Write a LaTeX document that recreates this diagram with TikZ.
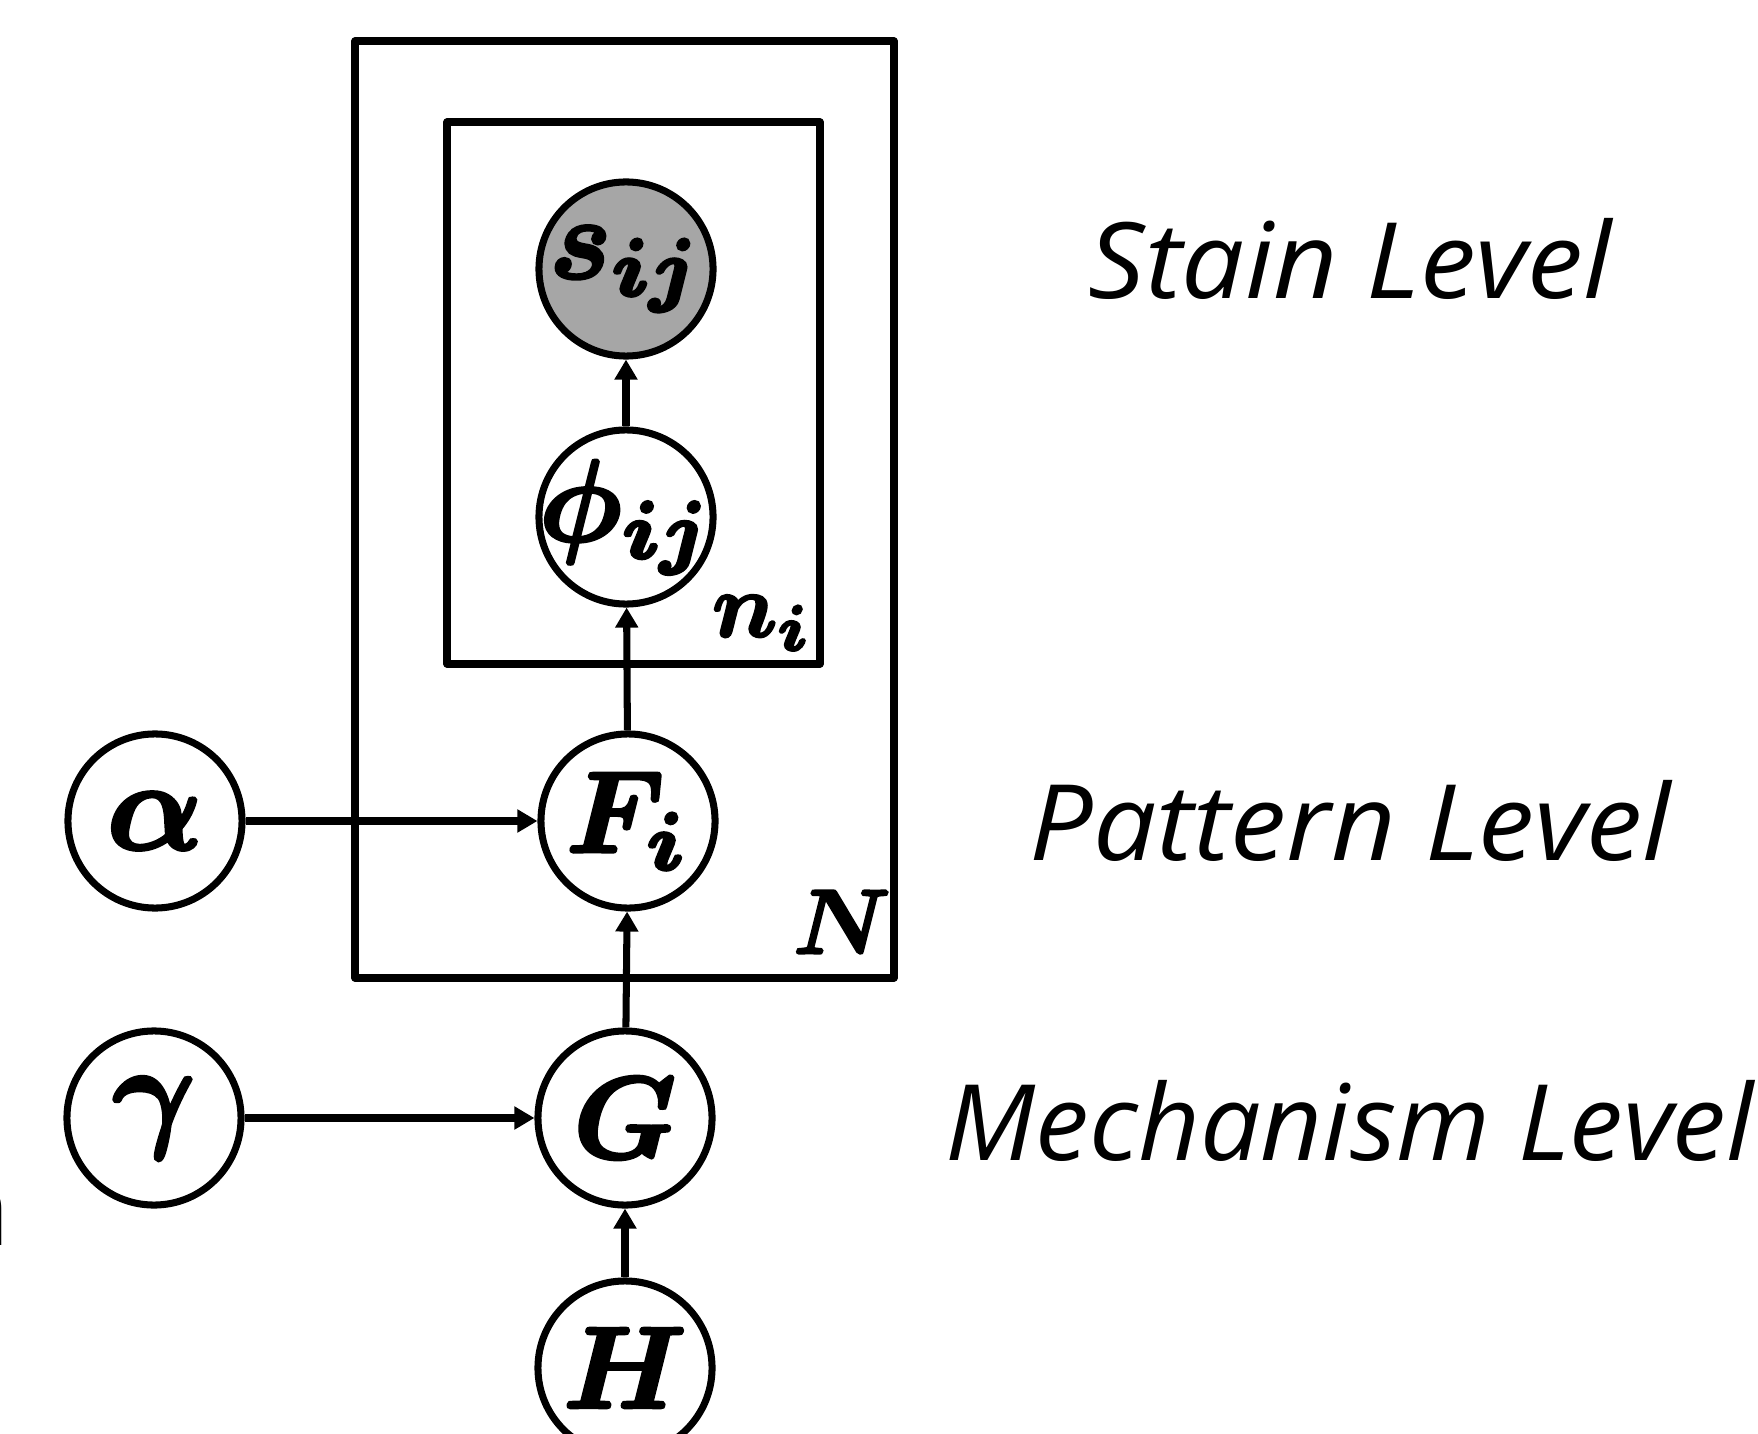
\documentclass[tikz,border=0pt]{standalone}
\usepackage{graphicx}
\usepackage[no-math]{fontspec}
\newfontfamily\lblfont{Open Sans}
\usetikzlibrary{arrows.meta}
\definecolor{obsgray}{HTML}{A6A6A6}
\newcommand{\heavy}[1]{\special{pdf:literal direct 2 Tr 0.28 w}#1\special{pdf:literal direct 0 Tr}}
\newcommand{\bigsym}[1]{\scalebox{3.3}{\heavy{\boldmath$#1$}}}
\newcommand{\grksym}[1]{\scalebox{3.6}{\heavy{\boldmath$#1$}}}
\newcommand{\midsym}[1]{\scalebox{2.6}{\heavy{\boldmath$#1$}}}
\begin{document}
\begin{tikzpicture}[x=0.01cm,y=-0.01cm,
  var/.style={circle,draw,line width=2pt,minimum size=1.74cm,inner sep=0pt},
  obs/.style={var,fill=obsgray},
  sym/.style={inner sep=0pt},
  plate/.style={draw,line width=2pt,line join=round},
  platelbl/.style={inner sep=0pt},
  edge/.style={-{Triangle[length=0.2cm,width=0.22cm]},line width=2pt},
  lvl/.style={inner sep=0pt,anchor=base west,font=\lblfont\itshape\fontsize{30}{36}\selectfont}]
\useasboundingbox (0,0) rectangle (1758,1434);
\clip (0,0) rectangle (1758,1434);
% plates
\draw[plate] (355,41) rectangle (894,978);
\draw[plate] (447,122) rectangle (820,664);
% nodes
\node[obs,label={[sym]center:\bigsym{s_{ij}}}] (s) at (626,269) {};
\node[var,label={[sym]center:\bigsym{\phi_{ij}}}] (phi) at (626,517) {};
\node[var,label={[sym]center:\bigsym{F_i}}] (f) at (628,821) {};
\node[var,label={[sym]center:\bigsym{G}}] (g) at (625,1118) {};
\node[var,label={[sym]center:\bigsym{H}}] (h) at (625,1368) {};
\node[var,label={[sym]center:\grksym{\alpha}}] (alpha) at (155,821) {};
\node[var,label={[sym]center:\grksym{\gamma}}] (gamma) at (154,1118) {};
% plate labels
\node[platelbl] (ni) at (762,623) {\midsym{n_i}};
\node[platelbl] (nn) at (842,922) {\midsym{N}};
% edges
\draw[edge] (phi) -- (s);
\draw[edge] (f) -- (phi);
\draw[edge] (g) -- (f);
\draw[edge] (h) -- (g);
\draw[edge] (alpha) -- (f);
\draw[edge] (gamma) -- (g);
% level labels
\node[lvl] (l1) at (1088,299) {\scalebox{1.06}[1]{Stain Level}};
\node[lvl] (l2) at (1029,860) {\scalebox{1.065}[1]{Pattern Level}};
\node[lvl] (l3) at (945,1160) {\scalebox{1.02}[1]{Mechanism Level}};
\node[lvl,anchor=base east,font=\lblfont\fontsize{30}{36}\selectfont] (frag) at (11,1245) {n};
\end{tikzpicture}
\end{document}
